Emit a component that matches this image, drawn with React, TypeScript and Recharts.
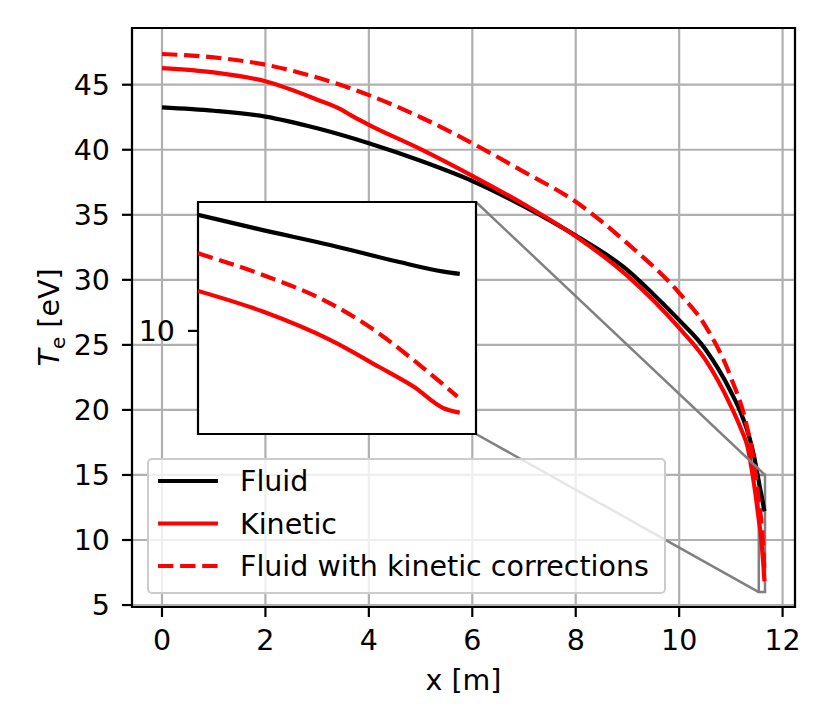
import React from "react";
import { LineChart, Line, XAxis, YAxis, CartesianGrid, ReferenceArea, ReferenceLine } from "recharts";

const FONT = "'DejaVu Sans', sans-serif";
const FS = 28.5;

// x [m] and T_e [eV], one pair of arrays per run
const fluidX = [0, 1, 2, 3, 4, 5, 6, 7, 8, 9, 9.5, 10, 10.5, 11, 11.2, 11.35, 11.45, 11.54, 11.568, 11.597, 11.626, 11.646, 11.653];
const fluidT = [43.26, 43.0, 42.55, 41.65, 40.5, 39.15, 37.6, 35.65, 33.4, 30.75, 28.9, 26.9, 24.7, 21.4, 19.7, 18.0, 16.4, 14.5, 13.91, 13.33, 12.69, 12.3, 12.21];

const kineticX = [0, 1, 2, 3, 3.45, 3.7, 4, 5, 6, 7, 8, 9, 10, 10.5, 11, 11.2, 11.32, 11.42, 11.48, 11.54, 11.568, 11.597, 11.618, 11.633, 11.646, 11.653];
const kineticT = [46.28, 45.95, 45.26, 43.85, 43.12, 42.55, 41.92, 40.05, 38.0, 35.8, 33.35, 30.3, 26.3, 23.9, 20.3, 18.5, 17.2, 15.0, 13.4, 11.55, 10.75, 9.65, 8.61, 7.84, 7.0, 6.83];

const correctedX = [0, 1, 2, 3, 4, 5, 6, 7, 8, 9, 10, 10.5, 11, 11.3, 11.45, 11.54, 11.568, 11.597, 11.618, 11.633, 11.652];
const correctedT = [47.36, 47.1, 46.54, 45.55, 44.2, 42.5, 40.5, 38.3, 36.0, 32.8, 29.0, 26.5, 22.5, 18.9, 15.9, 13.01, 12.17, 11.07, 9.91, 8.87, 7.45];

const xTicks = [0, 2, 4, 6, 8, 10, 12];
const yTicks = [5, 10, 15, 20, 25, 30, 35, 40, 45];
const insetYTicks = [10];

const X_DOMAIN: [number, number] = [-0.58, 12.24];
const Y_DOMAIN: [number, number] = [4.85, 49.36];
const ZOOM_X: [number, number] = [11.54, 11.66];
const ZOOM_Y: [number, number] = [6, 15];

const PLOT = { left: 132, top: 28, right: 795, bottom: 607 };
const INSET = { left: 198, top: 202, width: 278, height: 232 };
const LEGEND = { left: 147, top: 458, width: 519, height: 136 };

const zip = (xs: number[], ys: number[]) => xs.map((x, i) => ({ x, t: ys[i] }));

const series = [
  { name: "Fluid", color: "#000000", dash: undefined as string | undefined, data: zip(fluidX, fluidT) },
  { name: "Kinetic", color: "#ff0000", dash: undefined as string | undefined, data: zip(kineticX, kineticT) },
  { name: "Fluid with kinetic corrections", color: "#ff0000", dash: "15.4 6.7", data: zip(correctedX, correctedT) },
];

// page pixel -> main axes data, for the inset connector ends
const pxToX = (px: number) =>
  X_DOMAIN[0] + ((px - PLOT.left) / (PLOT.right - PLOT.left)) * (X_DOMAIN[1] - X_DOMAIN[0]);
const pxToY = (py: number) =>
  Y_DOMAIN[1] - ((py - PLOT.top) / (PLOT.bottom - PLOT.top)) * (Y_DOMAIN[1] - Y_DOMAIN[0]);

const tickStyle = { fontSize: FS, fill: "#000", fontFamily: FONT };
const tickLine = { stroke: "#000", strokeWidth: 2.2 };

const XTitle = () => (
  <text x={(PLOT.left + PLOT.right) / 2} y={690} textAnchor="middle" fontSize={FS} fontFamily={FONT} fill="#000">
    x [m]
  </text>
);

const YTitle = () => (
  <text
    transform={`translate(59, ${(PLOT.top + PLOT.bottom) / 2}) rotate(-90)`}
    textAnchor="middle"
    fontSize={FS}
    fontFamily={FONT}
    fill="#000"
  >
    <tspan fontStyle="italic">T</tspan>
    <tspan fontSize={20} dy={6}>e</tspan>
    <tspan dy={-6}> [eV]</tspan>
  </text>
);

function LegendBox() {
  return (
    <div
      style={{
        position: "absolute",
        left: LEGEND.left,
        top: LEGEND.top,
        width: LEGEND.width,
        height: LEGEND.height,
        boxSizing: "border-box",
        border: "2.2px solid #cccccc",
        borderRadius: 5,
        background: "rgba(255,255,255,0.8)",
      }}
    >
      <svg width={LEGEND.width} height={LEGEND.height} style={{ position: "absolute", left: -2.2, top: -2.2 }}>
        {series.map((s, i) => {
          const cy = 23 + i * 42.5;
          return (
            <g key={s.name}>
              <line x1={11} x2={71} y1={cy} y2={cy} stroke={s.color} strokeWidth={4.2} strokeDasharray={s.dash} />
              <text x={93} y={cy + 10} fontSize={FS} fontFamily={FONT} fill="#000">
                {s.name}
              </text>
            </g>
          );
        })}
      </svg>
    </div>
  );
}

export default function App() {
  const insetRight = INSET.left + INSET.width;
  const insetBottom = INSET.top + INSET.height;
  return (
    <div style={{ position: "absolute", left: 0, top: 0, width: 830, height: 727, background: "#fff" }}>
      <LineChart width={830} height={727} margin={{ top: 28, right: 35, bottom: 70, left: 72 }}>
        <CartesianGrid stroke="#b0b0b0" strokeWidth={2.2} />
        <XAxis
          type="number"
          dataKey="x"
          domain={X_DOMAIN}
          ticks={xTicks}
          allowDataOverflow
          height={50}
          axisLine={false}
          tickSize={10}
          tickMargin={13}
          tickLine={tickLine}
          tick={tickStyle}
          label={<XTitle />}
        />
        <YAxis
          type="number"
          domain={Y_DOMAIN}
          ticks={yTicks}
          allowDataOverflow
          width={60}
          axisLine={false}
          tickSize={10}
          tickMargin={12}
          tickLine={tickLine}
          tick={tickStyle}
          label={<YTitle />}
        />
        {series.map((s) => (
          <Line
            key={s.name}
            data={s.data}
            dataKey="t"
            type="monotone"
            stroke={s.color}
            strokeWidth={4.2}
            strokeDasharray={s.dash}
            dot={false}
            isAnimationActive={false}
          />
        ))}
        <ReferenceArea x1={ZOOM_X[0]} x2={ZOOM_X[1]} y1={ZOOM_Y[0]} y2={ZOOM_Y[1]} fill="none" stroke="#808080" strokeWidth={2.5} />
        <ReferenceLine
          segment={[{ x: pxToX(insetRight), y: pxToY(INSET.top) }, { x: ZOOM_X[1], y: ZOOM_Y[1] }]}
          stroke="#808080"
          strokeWidth={2.5}
          ifOverflow="visible"
        />
        <ReferenceLine
          segment={[{ x: pxToX(insetRight), y: pxToY(insetBottom) }, { x: ZOOM_X[0], y: ZOOM_Y[0] }]}
          stroke="#808080"
          strokeWidth={2.5}
          ifOverflow="visible"
        />
        <ReferenceArea x1={X_DOMAIN[0]} x2={X_DOMAIN[1]} y1={Y_DOMAIN[0]} y2={Y_DOMAIN[1]} fill="none" stroke="#000" strokeWidth={2.2} />
      </LineChart>

      <LegendBox />

      <div
        style={{
          position: "absolute",
          left: INSET.left,
          top: INSET.top,
          width: INSET.width,
          height: INSET.height,
          background: "#fff",
        }}
      />
      <div style={{ position: "absolute", left: INSET.left - 72, top: INSET.top - 2 }}>
        <LineChart width={INSET.width + 74} height={INSET.height + 4} margin={{ top: 2, right: 2, bottom: 2, left: 0 }}>
          <XAxis type="number" dataKey="x" domain={ZOOM_X} allowDataOverflow hide />
          <YAxis
            type="number"
            domain={ZOOM_Y}
            ticks={insetYTicks}
            allowDataOverflow
            width={72}
            axisLine={false}
            tickSize={10}
            tickMargin={13}
            tickLine={tickLine}
            tick={tickStyle}
          />
          {series.map((s) => (
            <Line
              key={s.name}
              data={s.data.filter((p) => p.x >= ZOOM_X[0])}
              dataKey="t"
              type="monotone"
              stroke={s.color}
              strokeWidth={4.2}
              strokeDasharray={s.dash}
              dot={false}
              isAnimationActive={false}
            />
          ))}
          <ReferenceArea x1={ZOOM_X[0]} x2={ZOOM_X[1]} y1={ZOOM_Y[0]} y2={ZOOM_Y[1]} fill="none" stroke="#000" strokeWidth={2.2} />
        </LineChart>
      </div>
    </div>
  );
}
